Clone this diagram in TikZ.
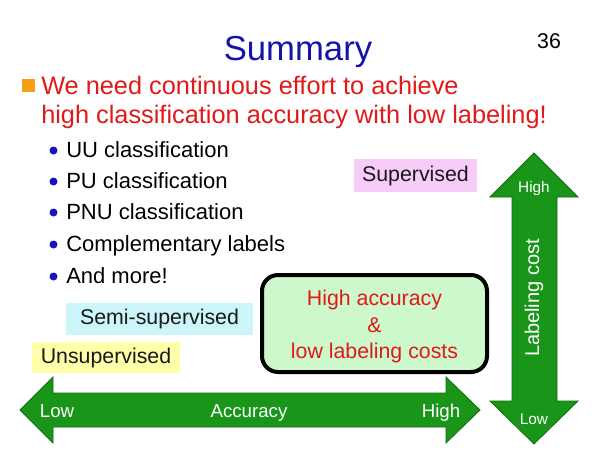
\documentclass[tikz,border=0pt]{standalone}
\usepackage{fontspec}
\setmainfont{Liberation Sans}
\definecolor{ttlblue}{RGB}{20,20,170}
\definecolor{redtxt}{RGB}{225,25,25}
\definecolor{orng}{RGB}{245,160,20}
\definecolor{dotblue}{RGB}{20,20,190}
\definecolor{arrgreen}{RGB}{25,150,25}
\definecolor{arrdark}{RGB}{15,110,15}
\definecolor{supfill}{RGB}{248,204,248}
\definecolor{semifill}{RGB}{204,246,250}
\definecolor{unsfill}{RGB}{255,255,170}
\definecolor{boxgreen}{RGB}{204,248,204}
\newcommand{\fs}[1]{\fontsize{#1}{1.2\dimexpr#1\relax}\selectfont}
\begin{document}
\begin{tikzpicture}[x=0.75pt,y=-0.75pt,
  bullettext/.style={anchor=base west,text=black,font=\fs{16.5pt}},
  tag/.style={anchor=center,inner sep=0pt,text=black!90,font=\fs{16pt}},
  arrowlbl/.style={anchor=base,text=white,font=\fs{14pt},inner sep=0pt},
  goaltxt/.style={anchor=base,text=redtxt,font=\fs{16pt},inner sep=0pt},
  arrowshape/.style={fill=arrgreen,draw=arrdark,line width=0.6pt,line join=miter}]
\useasboundingbox[fill=white] (0,0) rectangle (603,472);

% title and page number
\node[anchor=base,text=ttlblue,font=\fs{26pt}] (title) at (298,60) {Summary};
\node[anchor=base,text=black,font=\fs{16pt}] (pagenum) at (549,48) {36};

% main red bullet
\fill[orng] (22,79) rectangle (35,92);
\node[anchor=base west,text=redtxt,font=\fs{19pt},inner sep=0pt] (line1) at (41,94) {We need continuous effort to achieve};
\node[anchor=base west,text=redtxt,font=\fs{19pt},inner sep=0pt] (line2) at (41,123) {high classification accuracy with low labeling!};

% sub bullets
\foreach \yy/\txt [count=\i] in {157/UU classification,188/PU classification,219/PNU classification,251/Complementary labels,283/And more!}{
  \fill[dotblue] (53.5,\yy-6.5) circle (4);
  \node[bullettext,inner sep=0pt] (b\i) at (66,\yy) {\txt};
}

% tag boxes
\fill[supfill] (354,159) rectangle (477,192);
\node[tag] (sup) at (415.5,175.5) {Supervised};
\fill[semifill] (66,303) rectangle (253,335);
\node[tag] (semi) at (159.5,319) {Semi-supervised};
\fill[unsfill] (32,342) rectangle (180,373);
\node[tag] (unsup) at (106,357.5) {Unsupervised};

% horizontal arrow
\path[arrowshape] (20,410) -- (53,377) -- (53,393) -- (446,393) -- (446,377) -- (480,410)
  -- (446,443) -- (446,427) -- (53,427) -- (53,443) -- cycle;
\node[arrowlbl] (hlow) at (57,417) {Low};
\node[arrowlbl] (hacc) at (249,417) {Accuracy};
\node[arrowlbl] (hhigh) at (441,417) {High};

% vertical arrow
\path[arrowshape] (534,153) -- (578,197) -- (557,197) -- (557,401) -- (578,401) -- (534,444)
  -- (490,401) -- (512,401) -- (512,197) -- (490,197) -- cycle;
\node[arrowlbl,font=\fs{11.5pt}] (vhigh) at (534,192) {High};
\node[arrowlbl,font=\fs{11.5pt}] (vlow) at (534,424) {Low};
\node[anchor=center,text=white,inner sep=0pt,font=\fs{15pt},rotate=90] (vcost) at (534,298) {Labeling cost};

% goal box
\draw[fill=boxgreen,draw=black,line width=3pt,rounded corners=12pt] (262,275) rectangle (487,372);
\node[goaltxt] (goal1) at (374.5,305) {High accuracy};
\node[goaltxt] (goal2) at (374.5,332) {\&};
\node[goaltxt] (goal3) at (374.5,358) {low labeling costs};
\end{tikzpicture}
\end{document}
